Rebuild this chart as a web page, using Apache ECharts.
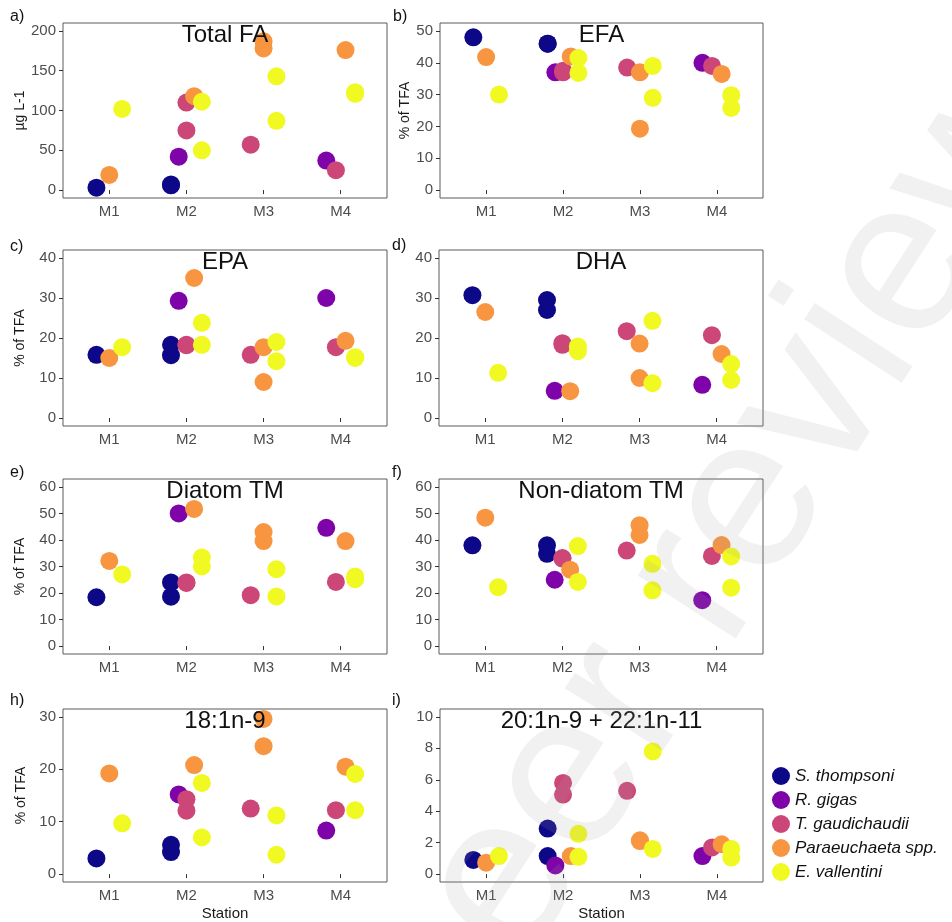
<!DOCTYPE html>
<html>
<head>
<meta charset="utf-8">
<script src="https://cdn.jsdelivr.net/npm/echarts@6/dist/echarts.min.js"></script>
<style>
html,body{margin:0;padding:0;background:#fff;}
#chart{width:952px;height:922px;}
</style>
</head>
<body>
<div id="chart"></div>
<script>
// ---------------- data ----------------
const stations = ['M1', 'M2', 'M3', 'M4'];
const species = ['S. thompsoni', 'R. gigas', 'T. gaudichaudii', 'Paraeuchaeta spp.', 'E. vallentini'];

// each array: [species][station] -> replicate values
const totalFA = [
  [[3], [7, 6], [], []],
  [[], [42], [], [37]],
  [[], [110, 75], [57], [25]],
  [[19], [118], [187, 178], [176]],
  [[102], [111, 50], [143, 87], [123, 121]]
];
const efa = [
  [[48], [46, 46], [], []],
  [[], [37], [], [40]],
  [[], [37.5, 37], [38.5], [39]],
  [[41.8], [42], [37, 19.3], [36.5]],
  [[30], [41.5, 36.8], [39, 29], [29.8, 25.8]]
];
const epa = [
  [[15.8], [18.3, 15.7], [], []],
  [[], [29.3], [], [30]],
  [[], [18.3, 18.2], [15.8], [17.7]],
  [[15], [35], [17.7, 9], [19.3]],
  [[17.7], [23.8, 18.3], [19, 14.2], [15.2, 15.0]]
];
const dha = [
  [[30.7], [29.5, 27], [], []],
  [[], [6.8], [], [8.3]],
  [[], [18.7, 18.3], [21.7], [20.7]],
  [[26.5], [6.7], [18.6, 10], [16]],
  [[11.3], [17.9, 16.7], [24.3, 8.7], [13.5, 9.5]]
];
const diatomTM = [
  [[18.4], [24, 18.6], [], []],
  [[], [50], [], [44.6]],
  [[], [24, 23.8], [19.2], [24.2]],
  [[32.1], [51.7], [43, 39.6], [39.6]],
  [[27], [33.4, 30], [29, 18.7], [26.2, 25.2]]
];
const nonDiatomTM = [
  [[38], [38, 34.8], [], []],
  [[], [25], [], [17.3]],
  [[], [33, 33.2], [36], [34]],
  [[48.4], [28.8], [45.6, 41.9], [38.1]],
  [[22.2], [37.7, 24.2], [31, 21], [33.8, 22]]
];
const oleic = [
  [[3], [5.6, 4.2], [], []],
  [[], [15.2], [], [8.3]],
  [[], [14.3, 12.1], [12.5], [12.2]],
  [[19.2], [20.8], [29.6, 24.4], [20.5]],
  [[9.7], [17.4, 7], [11.2, 3.7], [19.1, 12.2]]
];
const longMUFA = [
  [[0.9], [2.9, 1.15], [], []],
  [[], [0.55], [], [1.15]],
  [[], [5.8, 5.06], [5.3], [1.7]],
  [[0.73], [1.15], [2.15, 2.1], [1.9]],
  [[1.15], [2.56, 1.1], [7.8, 1.6], [1.6, 1.05]]
];

const panelData = [totalFA, efa, epa, dha, diatomTM, nonDiatomTM, oleic, longMUFA];
const panelTitles = ['Total FA', 'EFA', 'EPA', 'DHA', 'Diatom TM', 'Non-diatom TM', '18:1n-9', '20:1n-9 + 22:1n-11'];
const panelLetters = ['a)', 'b)', 'c)', 'd)', 'e)', 'f)', 'h)', 'i)'];
const yTicks = [
  [0, 50, 100, 150, 200],
  [0, 10, 20, 30, 40, 50],
  [0, 10, 20, 30, 40],
  [0, 10, 20, 30, 40],
  [0, 10, 20, 30, 40, 50, 60],
  [0, 10, 20, 30, 40, 50, 60],
  [0, 10, 20, 30],
  [0, 2, 4, 6, 8, 10]
];
const yNames = ['µg L-1', '% of TFA', '% of TFA', '', '% of TFA', '', '% of TFA', ''];

// ---------------- layout / style ----------------
const colors = ['#0D0887', '#7E03A8', '#CC4778', '#F89540', '#F0F921'];
const grids = [
  { left: 63, top: 23, width: 324, height: 175 },
  { left: 440, top: 23, width: 323, height: 175 },
  { left: 63, top: 250, width: 324, height: 176 },
  { left: 439, top: 250, width: 324, height: 176 },
  { left: 63, top: 479, width: 324, height: 175 },
  { left: 439, top: 479, width: 324, height: 175 },
  { left: 63, top: 709, width: 324, height: 175 },
  { left: 440, top: 709, width: 323, height: 175 }
];
const letterPos = [[10, 9], [393, 9], [10, 239], [392, 238], [10, 465], [392, 465], [10, 693], [392, 693]];
const yNameGaps = [35, 28, 36, 0, 36, 0, 35, 0];
const FONT = '"Liberation Sans", Arial, Helvetica, sans-serif';

const chart = echarts.init(document.getElementById('chart'), null, { renderer: 'canvas' });

const gridOpts = [], xAxes = [], yAxes = [], series = [], graphics = [];
const xVals = [1, 2, 3, 4];

panelData.forEach((data, p) => {
  const g = grids[p];
  gridOpts.push({ left: g.left, top: g.top, width: g.width, height: g.height, show: true,
    borderColor: '#5a5a5a', borderWidth: 1, backgroundColor: '#fff', containLabel: false });
  const isBottom = p >= 6;
  xAxes.push({
    type: 'value', gridIndex: p, min: 0.4, max: 4.6,
    name: isBottom ? 'Station' : '', nameLocation: 'middle', nameGap: 24,
    nameTextStyle: { fontSize: 15, color: '#1a1a1a', fontFamily: FONT },
    axisLine: { show: false },
    axisTick: { show: true, length: 4, customValues: xVals, lineStyle: { color: '#333' } },
    axisLabel: { customValues: xVals, formatter: v => stations[Math.round(v) - 1], fontSize: 15,
      color: '#4d4d4d', margin: 6, fontFamily: FONT },
    splitLine: { show: false }
  });
  const ticks = yTicks[p];
  const top = ticks[ticks.length - 1];
  yAxes.push({
    type: 'value', gridIndex: p, min: -0.05 * top, max: 1.05 * top,
    name: yNames[p], nameLocation: 'middle', nameRotate: 90, nameGap: yNameGaps[p],
    nameTextStyle: { fontSize: 14, color: '#1a1a1a', fontFamily: FONT },
    axisLine: { show: false },
    axisTick: { show: true, length: 4, customValues: ticks, lineStyle: { color: '#333' } },
    axisLabel: { customValues: ticks, fontSize: 15, color: '#4d4d4d', margin: 7, fontFamily: FONT },
    splitLine: { show: false }
  });
  // dodge positions by species present at each station
  const present = stations.map((_, st) => species.map((_, s) => s).filter(s => data[s][st].length > 0));
  species.forEach((name, s) => {
    const pts = [];
    stations.forEach((_, st) => {
      const idx = present[st].indexOf(s);
      if (idx < 0) return;
      const n = present[st].length;
      const off = -0.25 + (idx + 0.5) * 0.5 / n;
      data[s][st].forEach(v => pts.push([st + 1 + off, v]));
    });
    series.push({
      type: 'scatter', name: name, xAxisIndex: p, yAxisIndex: p, data: pts,
      symbol: 'circle', symbolSize: 18, itemStyle: { color: colors[s], opacity: 1 },
      emphasis: { disabled: true }, animation: false, z: 3
    });
  });
  graphics.push({
    type: 'text', x: g.left + g.width / 2, y: g.top + 12, silent: true, z: 50,
    style: { text: panelTitles[p], font: '24px ' + FONT, fill: '#111', align: 'center', verticalAlign: 'middle' }
  });
  graphics.push({
    type: 'text', x: letterPos[p][0], y: letterPos[p][1], silent: true, z: 50,
    style: { text: panelLetters[p], font: '16px ' + FONT, fill: '#111', align: 'left', verticalAlign: 'top' }
  });
});

// faint watermark
graphics.push({
  type: 'text', x: 713, y: 562, rotation: 57 * Math.PI / 180, silent: true, z: 200,
  style: { text: 'peer review', font: '220px ' + FONT, fill: 'rgba(160,160,160,0.15)', align: 'center', verticalAlign: 'middle' }
});

chart.setOption({
  animation: false,
  backgroundColor: '#fff',
  textStyle: { fontFamily: FONT },
  grid: gridOpts,
  xAxis: xAxes,
  yAxis: yAxes,
  series: series,
  color: colors,
  legend: {
    data: species, orient: 'vertical', left: 767, top: 762,
    icon: 'circle', itemWidth: 18, itemHeight: 18, itemGap: 6,
    selectedMode: false,
    textStyle: { fontStyle: 'italic', fontSize: 17, color: '#111', fontFamily: FONT, padding: [0, 0, 0, 0] }
  },
  graphic: graphics
});
</script>
</body>
</html>
